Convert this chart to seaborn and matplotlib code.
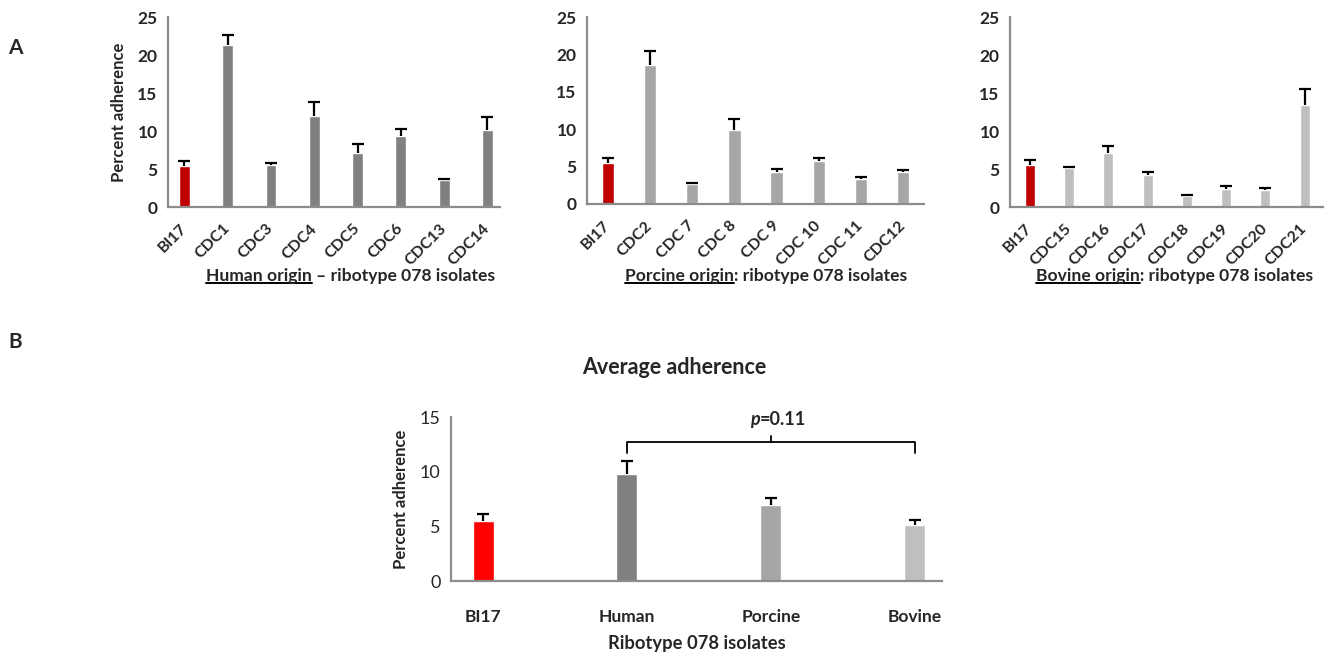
import numpy as np
import pandas as pd
import matplotlib
matplotlib.use("Agg")
import matplotlib.pyplot as plt
import seaborn as sns
from matplotlib.lines import Line2D

# ---- data (percent adherence, mean and + error) ----
human_isolates = ["BI17", "CDC1", "CDC3", "CDC4", "CDC5", "CDC6", "CDC13", "CDC14"]
human_mean = [5.4, 21.3, 5.55, 12.0, 7.1, 9.4, 3.5, 10.1]
human_err = [0.7, 1.3, 0.3, 1.8, 1.2, 0.8, 0.25, 1.7]

porcine_isolates = ["BI17", "CDC2", "CDC 7", "CDC 8", "CDC 9", "CDC 10", "CDC 11", "CDC12"]
porcine_mean = [5.45, 18.6, 2.7, 9.9, 4.25, 5.75, 3.35, 4.3]
porcine_err = [0.65, 1.8, 0.1, 1.5, 0.4, 0.35, 0.25, 0.2]

bovine_isolates = ["BI17", "CDC15", "CDC16", "CDC17", "CDC18", "CDC19", "CDC20", "CDC21"]
bovine_mean = [5.5, 5.1, 7.15, 4.15, 1.5, 2.4, 2.3, 13.45]
bovine_err = [0.7, 0.1, 0.9, 0.45, 0.1, 0.3, 0.15, 2.05]

avg_groups = ["BI17", "Human", "Porcine", "Bovine"]
avg_mean = [5.47, 9.81, 6.97, 5.13]
avg_err = [0.64, 1.16, 0.63, 0.46]
p_value = "=0.11"

RED_DARK = "#C00000"
SPINE = "#8C8C8C"

sns.set_style("white")
plt.rcParams["font.family"] = ["Lato", "DejaVu Sans"]

W, H = 1329, 655
fig = plt.figure(figsize=(W / 100, H / 100), dpi=100)


def px_rect(l, t, r, b):
    return [l / W, 1 - b / H, (r - l) / W, (b - t) / H]


def style_axes(ax, ymax, xlim, nbound):
    ax.set_ylim(0, ymax)
    ax.set_xlim(*xlim)
    sns.despine(ax=ax)
    for s in ("left", "bottom"):
        ax.spines[s].set_color(SPINE)
        ax.spines[s].set_linewidth(1.6)
    ax.set_xticks(np.linspace(xlim[0], xlim[1], nbound), minor=True)
    ax.tick_params(axis="x", which="major", length=0)
    ax.tick_params(axis="x", which="minor", length=4, width=1.4, color=SPINE, direction="out")
    ax.tick_params(axis="y", length=4, width=1.4, color=SPINE, direction="out")
    ax.set_xlabel("")
    ax.set_ylabel("")


def add_errors(ax, means, errs, capsize=4.3):
    x = np.arange(len(means))
    eb = ax.errorbar(x, means, yerr=[np.zeros(len(errs)), errs], fmt="none",
                     ecolor="black", elinewidth=1.6, capsize=capsize, capthick=1.6)
    eb[1][0].set_visible(False)  # only the upper cap, as in Excel "plus" bars


def underline_part(txt, part):
    fig.canvas.draw()
    r = fig.canvas.get_renderer()
    bb = txt.get_window_extent(r)
    probe = fig.text(0, 0, part, fontproperties=txt.get_fontproperties())
    w = probe.get_window_extent(r).width
    probe.remove()
    y = bb.y0 + 1.5
    fig.add_artist(Line2D([bb.x0 / W, (bb.x0 + w) / W], [y / H, y / H],
                          color="black", lw=1.4, transform=fig.transFigure))


panels = [
    (human_isolates, human_mean, human_err, "#808080", px_rect(168, 17, 500, 207),
     (-0.38, 7.29), 0.25, "Human origin", " \u2013 ribotype 078 isolates", 351),
    (porcine_isolates, porcine_mean, porcine_err, "#A6A6A6", px_rect(587, 17, 924, 204),
     (-0.50, 7.5), 0.29, "Porcine origin", ": ribotype 078 isolates", 766),
    (bovine_isolates, bovine_mean, bovine_err, "#BFBFBF", px_rect(1010, 17, 1323, 207),
     (-0.51, 7.47), 0.255, "Bovine origin", ": ribotype 078 isolates", 1175),
]

for i, (names, means, errs, col, rect, xlim, bw, under, rest, lx) in enumerate(panels):
    ax = fig.add_axes(rect)
    df = pd.DataFrame({"isolate": names, "adherence": means})
    pal = {n: (RED_DARK if n == "BI17" else col) for n in names}
    sns.barplot(data=df, x="isolate", y="adherence", hue="isolate", palette=pal,
                legend=False, width=bw, saturation=1, ax=ax)
    add_errors(ax, means, errs)
    style_axes(ax, 25, xlim, 9)
    yt = [0, 5, 10, 15, 20, 25]
    ax.set_yticks(yt, labels=[str(v) for v in yt], fontsize=12.5, fontweight="bold")
    ax.set_xticks(range(len(names)), labels=names, rotation=45, ha="right", va="center",
                  rotation_mode="anchor", fontsize=11.5, fontweight="bold")
    ax.tick_params(axis="x", which="major", pad=14)
    if i == 0:
        ax.set_ylabel("Percent adherence", fontsize=12, fontweight="bold")
        ax.yaxis.set_label_coords(-0.125, 0.5)
    lab = fig.text(lx / W, 1 - 276 / H, under + rest, ha="center",
                   va="center", fontsize=12.6, fontweight="bold")
    underline_part(lab, under)

# ---- panel B: average adherence ----
axb = fig.add_axes(px_rect(451, 417, 942, 581))
dfb = pd.DataFrame({"group": avg_groups, "adherence": avg_mean})
palb = dict(zip(avg_groups, ["#FF0000", "#808080", "#A6A6A6", "#BFBFBF"]))
sns.barplot(data=dfb, x="group", y="adherence", hue="group", palette=palb,
            legend=False, width=0.146, saturation=1, ax=axb)
add_errors(axb, avg_mean, avg_err, capsize=4)
style_axes(axb, 15, (-0.223, 3.19), 5)
axb.set_yticks([0, 5, 10, 15])
axb.set_xticks(range(len(avg_groups)), labels=avg_groups, fontsize=12.5, fontweight="bold")
axb.tick_params(axis="x", which="major", pad=20)
axb.tick_params(axis="y", labelsize=13, labelcolor="#262626")
axb.set_ylabel("Percent adherence", fontsize=12, fontweight="bold")
axb.yaxis.set_label_coords(-0.085, 0.5)
axb.set_xlabel("Ribotype 078 isolates", fontsize=13.2, fontweight="bold", labelpad=7)

# bracket between Human and Bovine with the p value
axb.plot([1, 1, 3, 3], [11.75, 12.75, 12.75, 11.75], color="black", lw=1.3, clip_on=False)
axb.plot([2, 2], [12.75, 13.3], color="black", lw=1.3, clip_on=False)
axb.text(1.92, 14.75, "p", ha="right", va="center", fontsize=13,
         fontweight="bold", fontstyle="italic")
axb.text(1.92, 14.75, p_value, ha="left", va="center", fontsize=13, fontweight="bold")

fig.text(674 / W, 1 - 368 / H, "Average adherence", ha="center", va="center",
         fontsize=15.5, fontweight="bold")
fig.text(15 / W, 1 - 48 / H, "A", ha="center", va="center", fontsize=15, fontweight="bold")
fig.text(15 / W, 1 - 342 / H, "B", ha="center", va="center", fontsize=15, fontweight="bold")

fig.savefig("out.png", dpi=100)
